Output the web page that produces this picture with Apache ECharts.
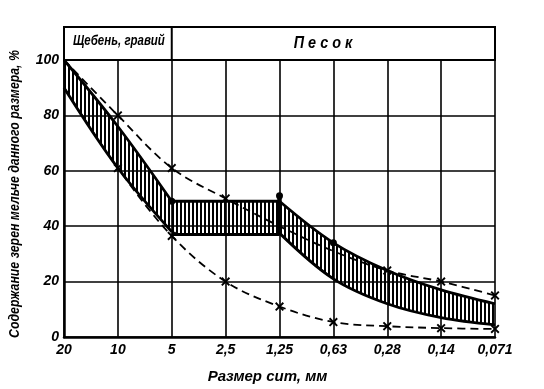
<!DOCTYPE html>
<html><head><meta charset="utf-8">
<script src="https://cdn.jsdelivr.net/npm/echarts@6.0.0/dist/echarts.min.js"></script>
<style>html,body{margin:0;padding:0;background:#fff}#c{width:544px;height:389px}</style>
</head><body><div id="c"></div>
<script>
const categories = ['20','10','5','2,5','1,25','0,63','0,28','0,14','0,071'];
const yTicks = [0,20,40,60,80,100];
// hatched band, three segments (start index, upper, lower)
const segAStart = 0;
const bandUpperA = [100, 76, 49];
const bandLowerA = [90, 61, 38];
const segBStart = 2;
const bandUpperB = [49, 49, 49];
const bandLowerB = [37, 37, 37];
const segCStart = 4;
const bandUpperC = [49, 34, 24, 17, 12];
const bandLowerC = [37.5, 21, 12, 7, 4.4];
const dotValues = ['-', '-', 49, '-', 51, 34, '-', '-', '-'];
const upperDashed = [100, 80, 61, 50, 40, 31, 24, 20, 15];
const lowerDashed = [90, 61, 36.5, 20, 11, 5.4, 3.9, 3.2, 2.9];
const upperMarks = [false, true, true, true, false, false, true, true, true];
const lowerMarks = [false, true, true, true, true, true, true, true, true];
const headerLeft = 'Щебень, гравий';
const headerRight = 'П е с о к';
const xName = 'Размер сит, мм';
const yName = 'Содержание зерен мельче данного размера, %';

const FONT = '"Liberation Sans", "DejaVu Sans", sans-serif';
const chart = echarts.init(document.getElementById('c'));

const pat = document.createElement('canvas');
pat.width = 4; pat.height = 4;
const pctx = pat.getContext('2d');
pctx.fillStyle = '#000';
pctx.fillRect(0, 0, 2, 4);

function pad(arr, start) {
  const out = categories.map(() => '-');
  arr.forEach((v, i) => { out[start + i] = v; });
  return out;
}
function diff(u, l) { return u.map((v, i) => +(v - l[i]).toFixed(2)); }

const XPATH = 'path://M1.5,0L5,3.5L8.5,0L10,1.5L6.5,5L10,8.5L8.5,10L5,6.5L1.5,10L0,8.5L3.5,5L0,1.5Z';
const boundary = { color: '#000', width: 2.8 };

function bandSeries(name, start, upper, lower, smooth) {
  return [
    { name: name + 'L', type: 'line', stack: name, data: pad(lower, start), smooth: smooth,
      symbol: 'none', lineStyle: boundary, z: 3, silent: true },
    { name: name + 'U', type: 'line', stack: name, data: pad(diff(upper, lower), start), smooth: smooth,
      symbol: 'none', lineStyle: boundary, z: 3, silent: true,
      areaStyle: { color: { image: pat, repeat: 'repeat' }, opacity: 1 } }
  ];
}

function dashed(values, marks) {
  return {
    type: 'line', smooth: 0.35, z: 5, silent: true,
    data: values.map((v, i) => ({ value: v, symbol: marks[i] ? XPATH : 'none' })),
    symbolSize: 9, showSymbol: true,
    itemStyle: { color: '#000' },
    lineStyle: { color: '#000', width: 1.8, type: [8, 5] }
  };
}

const labelStyle = { fontFamily: FONT, fontWeight: 'bold', fontStyle: 'italic', fontSize: 14, color: '#000' };

chart.setOption({
  animation: false,
  backgroundColor: '#fff',
  grid: { left: 64, right: 49, top: 60, bottom: 50 },
  xAxis: {
    type: 'category', data: categories, boundaryGap: false,
    axisLine: { lineStyle: { color: '#000', width: 2.5 } },
    axisTick: { show: false },
    axisLabel: Object.assign({ margin: 6, interval: 0 }, labelStyle),
    splitLine: { show: true, interval: 0, lineStyle: { color: '#000', width: 1.6 } },
    name: xName, nameLocation: 'middle', nameGap: 32,
    nameTextStyle: Object.assign({}, labelStyle, { fontSize: 15, padding: [0, 24, 0, 0] })
  },
  yAxis: {
    type: 'value', min: 0, max: 100, interval: 20,
    axisLine: { show: true, lineStyle: { color: '#000', width: 2.5 } },
    axisTick: { show: false },
    axisLabel: Object.assign({ margin: 5 }, labelStyle),
    splitLine: { show: true, lineStyle: { color: '#000', width: 1.6 } }
  },
  series: [
    ...bandSeries('A', segAStart, bandUpperA, bandLowerA, 0.35),
    ...bandSeries('B', segBStart, bandUpperB, bandLowerB, false),
    ...bandSeries('C', segCStart, bandUpperC, bandLowerC, 0.35),
    dashed(upperDashed, upperMarks),
    dashed(lowerDashed, lowerMarks),
    {
      type: 'line', data: dotValues, symbol: 'circle', symbolSize: 7, z: 6, silent: true,
      lineStyle: { width: 0 }, itemStyle: { color: '#000' },
      markLine: {
        silent: true, symbol: 'none', label: { show: false },
        lineStyle: { color: '#000', width: 4.5, type: 'solid' },
        data: [[{ coord: [categories[segCStart], bandLowerB[2]] }, { coord: [categories[segCStart], dotValues[segCStart]] }]]
      }
    }
  ]
});

const xs = categories.map(c => chart.convertToPixel({ xAxisIndex: 0 }, c));
const yTop = chart.convertToPixel({ yAxisIndex: 0 }, 100);
const headTop = yTop - 33;
const divX = xs[2];
chart.setOption({
  graphic: [
    { type: 'rect', shape: { x: xs[0], y: headTop, width: xs[8] - xs[0], height: yTop - headTop },
      style: { fill: 'none', stroke: '#000', lineWidth: 2 } },
    { type: 'line', shape: { x1: divX, y1: headTop, x2: divX, y2: yTop }, style: { stroke: '#000', lineWidth: 2 } },
    { type: 'text', x: (xs[0] + divX) / 2 + 1, y: (headTop + yTop) / 2 - 2, scaleX: 0.82,
      style: { text: headerLeft, align: 'center', verticalAlign: 'middle',
        font: 'italic bold 14px ' + FONT, fill: '#000' } },
    { type: 'text', x: 323, y: (headTop + yTop) / 2, scaleX: 0.9,
      style: { text: headerRight, align: 'center', verticalAlign: 'middle',
        font: 'italic bold 16px ' + FONT, fill: '#000' } },
    { type: 'text', x: 15, y: 194, rotation: Math.PI / 2, scaleX: 0.88,
      style: { text: yName, align: 'center', verticalAlign: 'middle',
        font: 'italic bold 14px ' + FONT, fill: '#000' } }
  ]
});
</script></body></html>
